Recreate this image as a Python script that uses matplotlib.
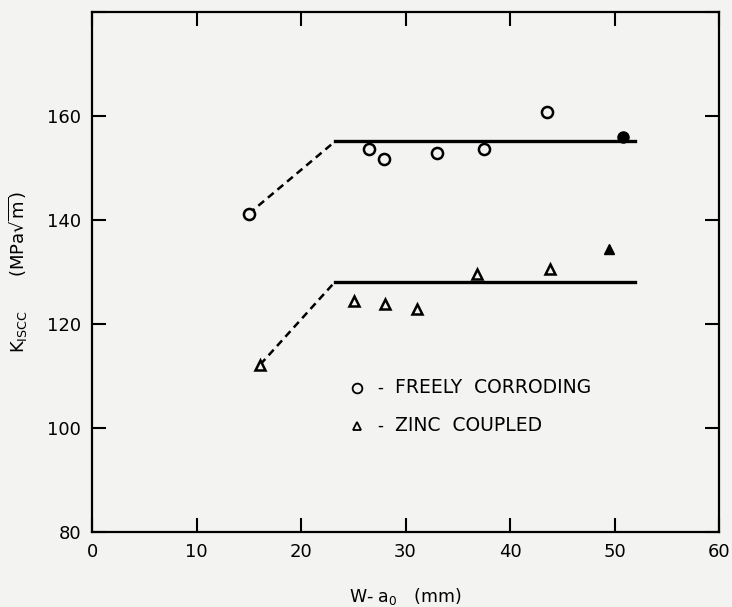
import matplotlib
matplotlib.use("Agg")
import matplotlib.pyplot as plt

# freely corroding (open circles), last one filled
fc_x = [15.0, 26.5, 27.9, 33.0, 37.5, 43.5]
fc_y = [141.2, 153.6, 151.8, 152.8, 153.6, 160.7]
fc_fill_x = [50.8]
fc_fill_y = [155.9]

# zinc coupled (open triangles), last one filled
zc_x = [16.1, 25.1, 28.0, 31.1, 36.8, 43.8]
zc_y = [112.2, 124.5, 123.9, 122.9, 129.6, 130.6]
zc_fill_x = [49.5]
zc_fill_y = [134.5]

# fitted lines: dashed ramp then solid plateau
fc_ramp_x = [15.0, 23.25]
fc_ramp_y = [141.2, 155.1]
fc_plat_x = [23.25, 52.0]
fc_plat_y = [155.1, 155.1]
zc_ramp_x = [16.1, 23.25]
zc_ramp_y = [112.2, 128.1]
zc_plat_x = [23.25, 52.0]
zc_plat_y = [128.1, 128.1]

bg = '#f3f3f1'
fig = plt.figure(figsize=(7.32, 6.07), dpi=100, facecolor=bg)
ax = fig.add_axes([92/732, 1 - 532/607, (719-92)/732, (532-12)/607])
ax.set_facecolor(bg)

ax.plot(fc_ramp_x, fc_ramp_y, '--', color='black', lw=1.8, dashes=(3, 2))
ax.plot(fc_plat_x, fc_plat_y, '-', color='black', lw=2.4)
ax.plot(zc_ramp_x, zc_ramp_y, '--', color='black', lw=1.8, dashes=(3, 2))
ax.plot(zc_plat_x, zc_plat_y, '-', color='black', lw=2.4)

ax.plot(fc_x, fc_y, 'o', ms=8, mfc=bg, mec='black', mew=1.8, ls='none')
ax.plot(fc_fill_x, fc_fill_y, 'o', ms=8, mfc='black', mec='black', ls='none')
ax.plot(zc_x, zc_y, '^', ms=6.5, mfc=bg, mec='black', mew=1.8, ls='none')
ax.plot(zc_fill_x, zc_fill_y, '^', ms=6.5, mfc='black', mec='black', ls='none')

# hand-lettered style legend
ax.plot([25.4], [107.7], 'o', ms=7, mfc=bg, mec='black', mew=1.3)
ax.text(27.3, 107.7, '-', fontsize=12, va='center')
ax.text(29.0, 107.7, 'FREELY  CORRODING', fontsize=13.5, va='center')
ax.plot([25.4], [100.4], '^', ms=6, mfc=bg, mec='black', mew=1.3)
ax.text(27.3, 100.4, '-', fontsize=12, va='center')
ax.text(29.0, 100.4, 'ZINC  COUPLED', fontsize=13.5, va='center')

ax.set_xlim(0, 60)
ax.set_ylim(80, 180)
ax.set_xticks([0, 10, 20, 30, 40, 50, 60])
ax.set_yticks([80, 100, 120, 140, 160, 180])
ax.set_yticklabels(['80', '100', '120', '140', '160', ''])
ax.tick_params(direction='in', length=10, width=1.5, top=True, right=True,
               labelsize=13, pad=8)
for s in ax.spines.values():
    s.set_linewidth(1.6)

ax.set_xlabel(r'W- a$_0$   (mm)', fontsize=12.5, labelpad=18)
ax.set_ylabel(r'$\mathrm{K_{ISCC}}$      (MPa$\sqrt{\mathrm{m}}$)', fontsize=13, labelpad=12)

fig.savefig('out.png', dpi=100, facecolor=bg)
